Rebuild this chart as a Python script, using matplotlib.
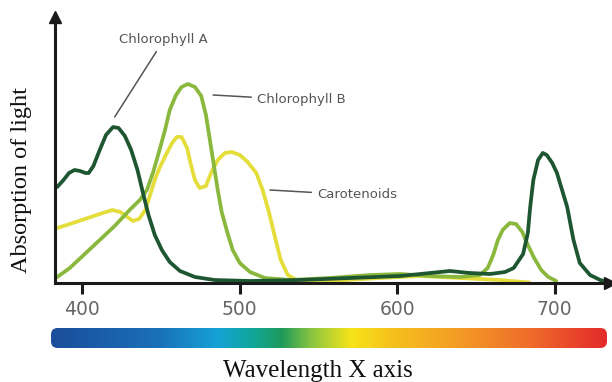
import numpy as np
import matplotlib
matplotlib.use("Agg")
import matplotlib.pyplot as plt
from matplotlib.colors import LinearSegmentedColormap
from matplotlib.patches import FancyBboxPatch

# ---------------- data (wavelength nm, relative absorption) ----------------
chl_a_wl = [384, 388, 391.5, 395, 398.5, 402, 404, 407, 411, 415, 419.5, 423, 427, 431, 435,
            438.5, 442, 446, 450.5, 455.5, 462, 471.5, 484, 506.5, 538, 570, 602, 621, 633.5,
            646, 659, 668.5, 674, 680, 683, 684.5, 686.5, 689.5, 692.5, 695, 698.5, 701.5,
            708, 712, 716, 722.5, 729, 733.5]
chl_a_abs = [96, 103, 110, 113, 112, 110, 110, 117, 133, 148, 156, 155, 147, 133, 113,
             90, 68, 48, 33, 21, 12, 6, 3, 2, 3, 5, 7, 10, 12,
             10, 9, 11, 15, 29, 50, 76, 103, 123, 130, 128, 120, 110,
             76, 43, 20, 8, 3, 1]

chl_b_wl = [384, 392, 401.5, 411, 420.5, 430, 436.5, 441, 445, 449, 452.5, 455.5, 459.5, 463,
            467, 471.5, 475.5, 478.5, 481, 483.5, 486, 488.5, 492, 495.5, 500, 506.5, 516,
            532, 557, 583, 602, 621, 640, 652.5, 657.5, 661, 664, 667, 671.5, 675.5, 679.5,
            683, 687, 691.5, 696, 701]
chl_b_abs = [6, 15, 29, 43, 57, 73, 83, 93, 111, 133, 153, 173, 188, 196,
             199, 196, 187, 168, 143, 118, 93, 71, 51, 33, 20, 11, 5,
             3, 5, 8, 9, 7, 6, 8, 15, 28, 43, 53, 60, 59, 51,
             38, 25, 13, 6, 2]

car_wl = [384, 392, 401.5, 411, 419, 424, 428.5, 432, 436, 440, 443, 446, 449, 453, 457, 460,
          463, 466.5, 469, 471.5, 474.5, 478.5, 482, 486, 490.5, 495, 500, 505, 510.5,
          514.5, 518.5, 522.5, 526, 530.5, 537, 557, 589, 614.5, 640, 665, 684]
car_abs = [55, 59, 64, 69, 73, 71, 66, 62, 64, 73, 88, 103, 115, 128, 140, 146,
           146, 135, 118, 103, 95, 97, 111, 123, 130, 131, 128, 121, 110,
           93, 71, 45, 23, 8, 2, 2, 5, 7, 5, 3, 0.5]

x_ticks = [400, 500, 600, 700]
labels = ["Chlorophyll A", "Chlorophyll B", "Carotenoids"]

# ---------------- style ----------------
C_A = "#1d5631"
C_B = "#8ab83c"
C_CAR = "#e4dd3a"
AX_COL = "#1a1a1a"

W, H = 612, 382
fig = plt.figure(figsize=(W / 100, H / 100), dpi=100)
fig.patch.set_facecolor("white")

# main axes: left spine x=55px, baseline y=283px, top 17px, right 610px
ax = fig.add_axes([55 / W, (H - 283) / H, (610 - 55) / W, (283 - 17) / H])
ax.set_xlim(382.6, 735.2)
ax.set_ylim(0, 266)

lw = 2.7
ax.plot(car_wl, car_abs, color=C_CAR, lw=lw, solid_capstyle="round", solid_joinstyle="round", zorder=2)
ax.plot(chl_b_wl, chl_b_abs, color=C_B, lw=lw, solid_capstyle="round", solid_joinstyle="round", zorder=3)
ax.plot(chl_a_wl, chl_a_abs, color=C_A, lw=lw, solid_capstyle="round", solid_joinstyle="round", zorder=4)

for s in ["top", "right"]:
    ax.spines[s].set_visible(False)
for s in ["left", "bottom"]:
    ax.spines[s].set_color(AX_COL)
    ax.spines[s].set_linewidth(2.2)
    ax.spines[s].set_zorder(5)

ax.set_yticks([])
ax.set_xticks(x_ticks)
ax.set_xticklabels([str(t) for t in x_ticks])
ax.tick_params(axis="x", direction="out", length=8, width=2.2, color=AX_COL,
               labelsize=13.5, labelcolor="#666666", pad=4)

# arrow heads
ax.plot([0], [1], marker="^", ms=8, color=AX_COL, transform=ax.transAxes, clip_on=False, zorder=6)
ax.plot([1], [0], marker=">", ms=8, color=AX_COL, transform=ax.transAxes, clip_on=False, zorder=6)

# annotations with leader lines
lab_kw = dict(fontsize=9.5, color="#555555", family="DejaVu Sans")
arr = dict(arrowstyle="-", color="#555555", lw=1.1, shrinkA=2, shrinkB=0)
ia = int(np.argmax(chl_a_abs[:20]))
ax.annotate(labels[0], xy=(chl_a_wl[ia] + 1, chl_a_abs[ia] + 10), xytext=(423.5, 243),
            ha="left", va="center", arrowprops=arr, **lab_kw)
ax.annotate(labels[1], xy=(483, 188), xytext=(510.9, 183),
            ha="left", va="center", arrowprops=arr, **lab_kw)
ax.annotate(labels[2], xy=(519.2, 93), xytext=(549, 88),
            ha="left", va="center", arrowprops=arr, **lab_kw)

# spectrum bar
bar_ax = fig.add_axes([51 / W, (H - 348) / H, (607 - 51) / W, 20 / H])
stops = [(0.0, "#1b4e9b"), (0.19, "#1a6fb8"), (0.30, "#16a2d6"), (0.36, "#10a79b"),
         (0.415, "#1f9a5a"), (0.47, "#8cc63f"), (0.54, "#f7e418"), (0.61, "#f6c21c"),
         (0.72, "#f4a024"), (0.86, "#ef6d2b"), (1.0, "#e42a2a")]
cmap = LinearSegmentedColormap.from_list("spec", stops)
grad = np.linspace(0, 1, 512).reshape(1, -1)
im = bar_ax.imshow(grad, aspect="auto", cmap=cmap, extent=[0, 1, 0, 1])
bar_ax.set_xlim(0, 1)
bar_ax.set_ylim(0, 1)
bar_ax.axis("off")
clip = FancyBboxPatch((0, 0), 1, 1, boxstyle="round,pad=0,rounding_size=0.012",
                      transform=bar_ax.transAxes, facecolor="none", edgecolor="none",
                      mutation_aspect=28)
bar_ax.add_patch(clip)
im.set_clip_path(clip)

# axis titles
fig.text(22 / W, 1 - 180 / H, "Absorption of light", rotation=90, ha="center", va="center",
         fontsize=17.5, family="Liberation Serif", color="#111111")
fig.text(318 / W, 1 - 377 / H, "Wavelength X axis", ha="center", va="baseline",
         fontsize=18, family="Liberation Serif", color="#111111")

fig.savefig("out.png", dpi=100, facecolor="white")
